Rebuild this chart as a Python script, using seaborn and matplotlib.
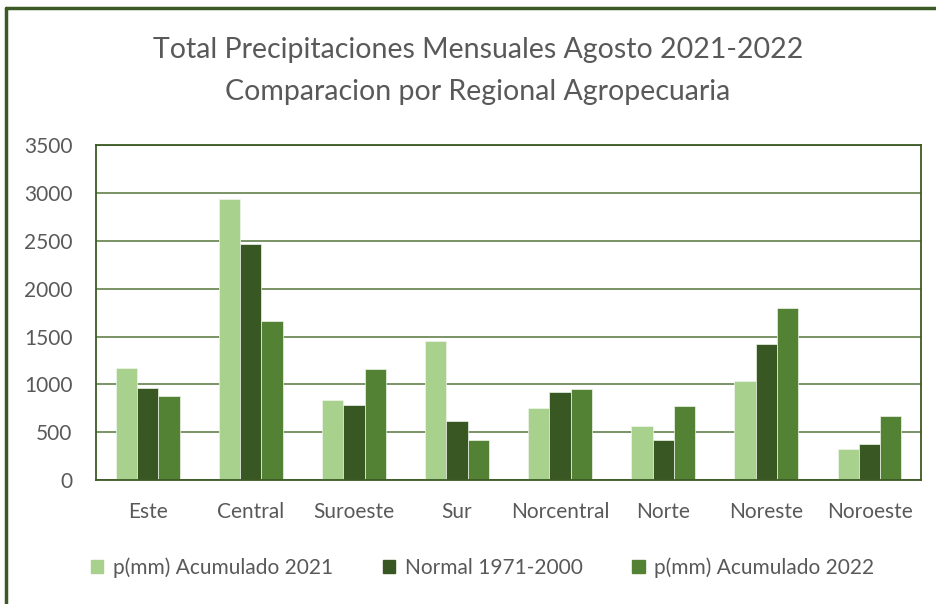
import matplotlib
matplotlib.use("Agg")
import matplotlib.pyplot as plt
import seaborn as sns
import pandas as pd
from matplotlib.lines import Line2D

# datos
regiones = ["Este", "Central", "Suroeste", "Sur", "Norcentral", "Norte", "Noreste", "Noroeste"]
acum_2021 = [1170, 2940, 840, 1450, 755, 562, 1038, 326]
normal_7100 = [962, 2465, 786, 615, 922, 423, 1424, 382]
acum_2022 = [880, 1660, 1160, 423, 953, 772, 1800, 675]
series = ["p(mm) Acumulado 2021", "Normal 1971-2000", "p(mm) Acumulado 2022"]
y_ticks = [0, 500, 1000, 1500, 2000, 2500, 3000, 3500]

colores = {series[0]: "#A9D18E", series[1]: "#385723", series[2]: "#548235"}
verde_borde = "#3B5A24"
gris = "#595959"

df = pd.DataFrame({
    "Region": regiones * 3,
    "Valor": acum_2021 + normal_7100 + acum_2022,
    "Serie": [series[0]] * 8 + [series[1]] * 8 + [series[2]] * 8,
})

sns.set_style("white")
plt.rcParams["font.family"] = ["Lato", "DejaVu Sans"]

fig = plt.figure(figsize=(9.37, 6.04), dpi=100)
ax = fig.add_axes([0.1025, 0.205, 0.8805, 0.5545])

sns.barplot(data=df, x="Region", y="Valor", hue="Serie", palette=colores,
            width=0.62, saturation=1, ax=ax, edgecolor="#EEF5EA", linewidth=0.5,
            legend=False)

ax.set_ylim(0, 3500)
ax.set_yticks(y_ticks)
ax.set_xlim(-0.5, len(regiones) - 0.5)
ax.yaxis.grid(True, color="#6E8B5A", linewidth=1.3)
ax.set_axisbelow(True)
for s in ax.spines.values():
    s.set_visible(True)
    s.set_color(verde_borde)
    s.set_linewidth(1.3)
ax.tick_params(axis="both", length=0, labelcolor=gris)
ax.tick_params(axis="y", labelsize=15, pad=17)
ax.tick_params(axis="x", labelsize=15, pad=16)
ax.set_xlabel("")
ax.set_ylabel("")

fig.text(0.51, 0.917, "Total Precipitaciones Mensuales Agosto 2021-2022",
         ha="center", va="center", fontsize=20.5, color=gris)
fig.text(0.51, 0.847, "Comparacion por Regional Agropecuaria",
         ha="center", va="center", fontsize=20.5, color=gris)

handles = [plt.Rectangle((0, 0), 1, 1, color=colores[s]) for s in series]
fig.legend(handles, series, loc="center", bbox_to_anchor=(0.515, 0.06), ncol=3,
           frameon=False, fontsize=15, labelcolor=gris, handlelength=0.6,
           handleheight=0.6, handletextpad=0.45, columnspacing=2.4)

# marco exterior (solo visible arriba e izquierda)
fig.add_artist(Line2D([0.006, 1.0], [0.987, 0.987], transform=fig.transFigure,
                      color=verde_borde, linewidth=2.5))
fig.add_artist(Line2D([0.006, 0.006], [0.0, 0.987], transform=fig.transFigure,
                      color=verde_borde, linewidth=2.5))

fig.savefig("out.png", dpi=100)
